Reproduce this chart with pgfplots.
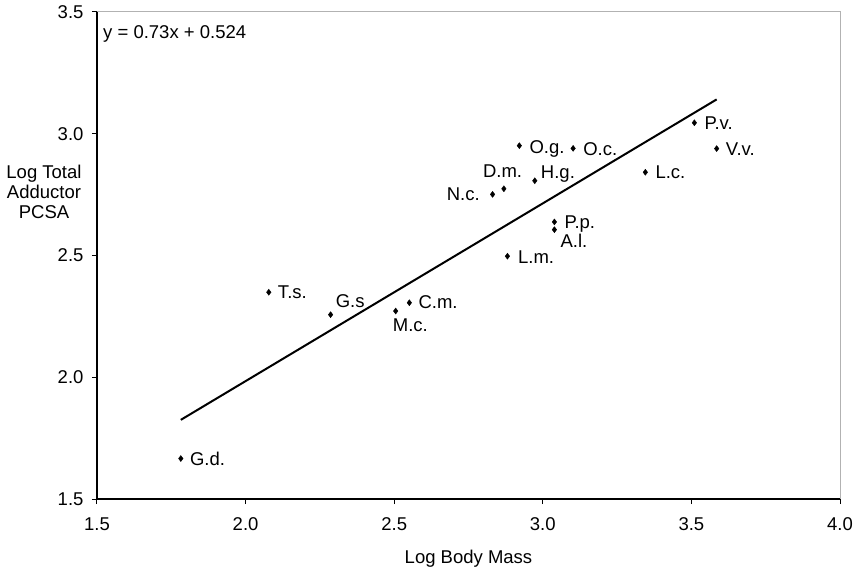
\documentclass[border=0pt]{standalone}
\usepackage{fontspec}
\setmainfont{Liberation Sans}
\usepackage{pgfplots}
\usepackage{pgfplotstable}
\pgfplotsset{compat=1.18}

% species, log body mass, log total adductor PCSA, label offsets (pt)
\pgfplotstableread{
name x     y     dx   dy
P.v. 3.510 3.045 10   -7
V.v. 3.585 2.939 9    -7
O.g. 2.921 2.951 10   -7.5
O.c. 3.102 2.940 10   -7
D.m. 2.869 2.774 -21  11.5
N.c. 2.831 2.751 -46  -6.5
H.g. 2.973 2.807 6    2
L.c. 3.345 2.842 10   -6.5
P.p. 3.039 2.638 10   -6.5
A.l. 3.039 2.606 6    -18
L.m. 2.881 2.497 10.5 -7
T.s. 2.078 2.349 9    -6
G.s  2.286 2.257 5    7.5
C.m. 2.551 2.306 9    -5.5
M.c. 2.505 2.272 -3   -20
G.d. 1.782 1.666 9    -6.5
}\species

\begin{document}
\begin{tikzpicture}[font=\fontsize{18.5}{20}\selectfont]
\useasboundingbox (-97pt,-71pt) rectangle (761pt,499pt);
\begin{axis}[
    scale only axis,
    width=743pt, height=487pt,
    xmin=1.5, xmax=4.0, ymin=1.5, ymax=3.5,
    xtick={1.5,2.0,2.5,3.0,3.5,4.0},
    ytick={1.5,2.0,2.5,3.0,3.5},
    axis lines*=left,
    axis line style={-, line width=1.3pt},
    tick align=outside,
    major tick length=5pt,
    tick style={black, line width=1pt},
    xticklabel style={yshift=-10pt},
    yticklabel style={xshift=-5pt},
    /pgf/number format/assume math mode=true,
    /pgf/number format/.cd, fixed, fixed zerofill, precision=1, /pgfplots/.cd,
    xlabel={Log Body Mass},
    ylabel={Log Total\\Adductor\\PCSA},
    ylabel style={rotate=-90, align=center, anchor=center,
        at={(rel axis cs:0,0.63)}, xshift=-53pt},
    xlabel style={at={(rel axis cs:0.5,0)}, anchor=center, yshift=-60pt},
    clip=false,
]
\draw[gray!60, line width=1pt] (rel axis cs:0,1) -- (rel axis cs:1,1) -- (rel axis cs:1,0);

\addplot[black, line width=2pt] coordinates {(1.782,1.825) (3.585,3.141)};

\addplot[only marks, mark=diamond*, mark size=3pt, black,
    point meta=explicit symbolic,
    visualization depends on={\thisrow{dx} \as \dx},
    visualization depends on={\thisrow{dy} \as \dy},
    nodes near coords,
    nodes near coords style={anchor=base west, inner sep=0pt,
        xshift=\dx pt, yshift=\dy pt, font=\fontsize{18.5}{20}\selectfont},
] table[x=x, y=y, meta=name] {\species};

\node[anchor=west, inner sep=0pt] at (rel axis cs:0,1) [xshift=6pt, yshift=-22pt] {y = 0.73x + 0.524};
\end{axis}
\end{tikzpicture}
\end{document}
